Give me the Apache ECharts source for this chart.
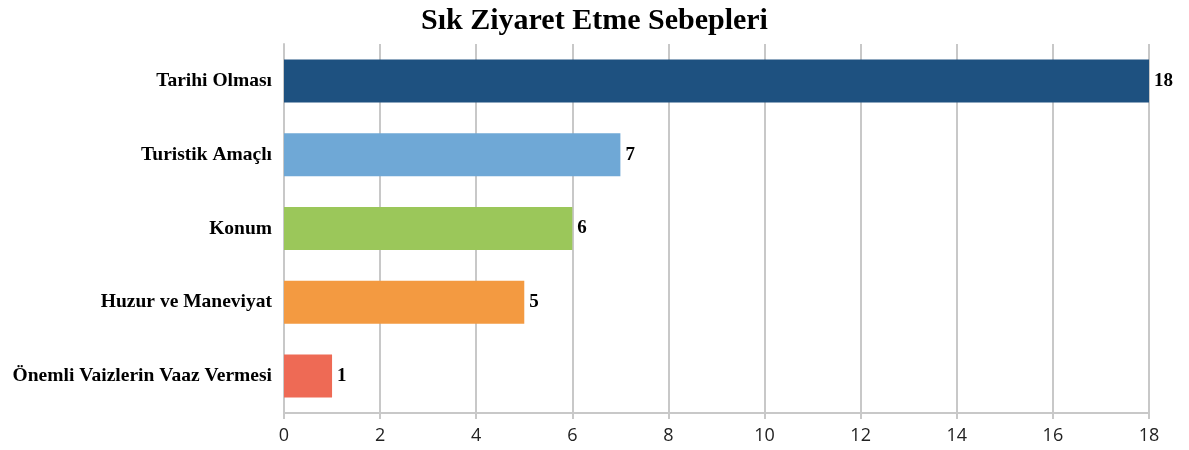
<!DOCTYPE html>
<html><head><meta charset="utf-8">
<script src="https://cdn.jsdelivr.net/npm/echarts@6/dist/echarts.min.js"></script>
<style>html,body{margin:0;padding:0;background:#fff}#c{width:1189px;height:450px}</style>
</head><body><div id="c"></div>
<script>
const categories = ["Tarihi Olması", "Turistik Amaçlı", "Konum", "Huzur ve Maneviyat", "Önemli Vaizlerin Vaaz Vermesi"];
const values = [18, 7, 6, 5, 1];
const colors = ["#1E5180", "#6FA8D6", "#9BC75A", "#F39A41", "#EE6A55"];
const titleText = "Sık Ziyaret Etme Sebepleri";

const chart = echarts.init(document.getElementById('c'), null, {renderer: 'canvas'});
chart.setOption({
  animation: false,
  title: {
    text: titleText, left: 'center', top: 1,
    textStyle: {fontFamily: 'Liberation Serif', fontWeight: 'bold', fontSize: 30, color: '#000'}
  },
  grid: {left: 284, right: 40, top: 44, bottom: 37, containLabel: false},
  xAxis: {
    type: 'value', min: 0, max: 18, interval: 2,
    axisLine: {show: true, lineStyle: {color: '#C8C8C8', width: 2}},
    axisTick: {show: true, length: 6, lineStyle: {color: '#C8C8C8', width: 2}},
    axisLabel: {fontFamily: 'Open Sans', fontSize: 18, color: '#222', margin: 14},
    splitLine: {show: true, lineStyle: {color: '#C8C8C8', width: 2}}
  },
  yAxis: {
    type: 'category', data: categories, inverse: true,
    axisLine: {show: true, lineStyle: {color: '#C8C8C8', width: 2}},
    axisTick: {show: false},
    axisLabel: {fontFamily: 'Liberation Serif', fontWeight: 'bold', fontSize: 19.5, color: '#000', margin: 12}
  },
  series: [{
    type: 'bar', barWidth: 43,
    data: values.map((v, i) => ({value: v, itemStyle: {color: colors[i]}})),
    label: {show: true, position: 'right', distance: 5, fontFamily: 'Liberation Serif', fontWeight: 'bold', fontSize: 19, color: '#000'}
  }]
});
</script></body></html>
